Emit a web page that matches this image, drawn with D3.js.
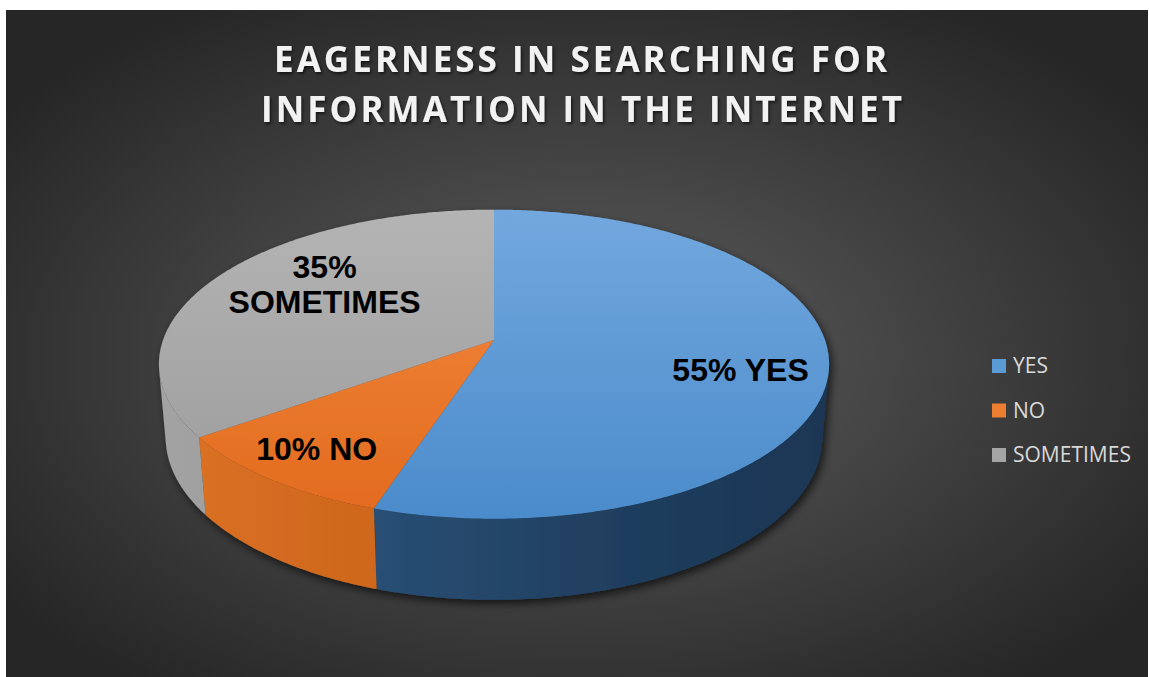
<!DOCTYPE html>
<html>
<head>
<meta charset="utf-8">
<script src="https://cdn.jsdelivr.net/npm/d3@7"></script>
<style>
  html, body { margin: 0; padding: 0; background: #ffffff; }
  svg { display: block; }
</style>
</head>
<body>
<div id="chart"></div>
<script>
// data
const categories = ["YES", "NO", "SOMETIMES"];
const values = [55, 10, 35];
const labelLines = [["55% YES"], ["10% NO"], ["35%", "SOMETIMES"]];
const titleLines = ["EAGERNESS IN SEARCHING FOR", "INFORMATION IN THE INTERNET"];

// look
const topColors = [["#72a8de", "#4b8bcb"], ["#f38b40", "#e26a1e"], ["#b4b4b4", "#9b9b9b"]];
const wallColors = [
  ["#336390", "#284d72", "#1f3d5d", "#1b3654"],
  ["#dc7125", "#cd661c", "#be5b17", "#b35419"],
  ["#a3a3a3", "#929292", "#8b8b8b", "#8a8a8a"]
];
const legendColors = ["#5b9bd5", "#ed7d31", "#a5a5a5"];
// label placement: fraction of radius, angle nudge in degrees
const labelPlace = [{r: 0.747, shift: 5.5}, {r: 0.806, shift: 0.7}, {r: 0.672, shift: 9}];

const W = 1149, H = 677;
const svg = d3.select("#chart").append("svg")
    .attr("width", W)
    .attr("height", H);

const defs = svg.append("defs");

const bg = defs.append("radialGradient").attr("id", "bg")
    .attr("cx", "0.5").attr("cy", "0.52").attr("r", "0.62");
bg.append("stop").attr("offset", "0").attr("stop-color", "#5e5e5e");
bg.append("stop").attr("offset", "1").attr("stop-color", "#262626");

const tshadow = defs.append("filter").attr("id", "tshadow")
    .attr("x", "-10%").attr("y", "-30%").attr("width", "120%").attr("height", "160%");
tshadow.append("feDropShadow").attr("dx", 1.5).attr("dy", 2).attr("stdDeviation", 1.5)
    .attr("flood-color", "#000").attr("flood-opacity", 0.6);

const pshadow = defs.append("filter").attr("id", "pshadow")
    .attr("x", "-10%").attr("y", "-10%").attr("width", "120%").attr("height", "130%");
pshadow.append("feDropShadow").attr("dx", 3).attr("dy", 4).attr("stdDeviation", 4)
    .attr("flood-color", "#000").attr("flood-opacity", 0.65);

// background panel
svg.append("rect")
    .attr("x", 6).attr("y", 10)
    .attr("width", 1142).attr("height", H - 10)
    .attr("fill", "url(#bg)");

// title
svg.append("g")
    .attr("filter", "url(#tshadow)")
  .selectAll("text")
  .data(titleLines)
  .join("text")
    .attr("x", (d, i) => i === 0 ? 580.5 : 581.5)
    .attr("y", (d, i) => 72 + i * 50)
    .attr("text-anchor", "middle")
    .attr("textLength", (d, i) => i === 0 ? 613 : 641)
    .attr("lengthAdjust", "spacing")
    .attr("font-family", "'Open Sans', 'DejaVu Sans', sans-serif")
    .attr("font-weight", 700)
    .attr("font-size", 35)
    .attr("fill", "#f2f2f2")
    .text(d => d);

// 3D pie projection (perspective)
const view = {cx: 494, cy: 340, f: 1883, dist: 5.69, tilt: 27.1 * Math.PI / 180, depth: 0.25};
const ca = Math.cos(view.tilt), sa = Math.sin(view.tilt);

function project(x, y, z) {
  const d = view.dist + z * ca - y * sa;
  const u = y * ca + z * sa;
  return [view.cx + view.f * x / d, view.cy - view.f * u / d];
}
function rim(a, r, y) {
  return project(r * Math.sin(a), y, r * Math.cos(a));
}
function arcPoints(a0, a1, y) {
  const n = Math.max(2, Math.ceil((a1 - a0) / 0.01));
  return d3.range(n + 1).map(i => rim(a0 + (a1 - a0) * i / n, 1, y));
}

// visible band of the outer wall
const silA = Math.acos(-1 / (view.dist * ca));
const silB = 2 * Math.PI - silA;

const data = categories.map((c, i) => ({category: c, value: values[i], index: i}));
const arcs = d3.pie().sort(null).value(d => d.value)(data);

const line = d3.line();

// gradients per slice
arcs.forEach((a, i) => {
  const tg = defs.append("linearGradient").attr("id", "top" + i)
      .attr("gradientUnits", "userSpaceOnUse")
      .attr("x1", 0).attr("y1", 208).attr("x2", 0).attr("y2", 521);
  tg.append("stop").attr("offset", 0).attr("stop-color", topColors[i][0]);
  tg.append("stop").attr("offset", 1).attr("stop-color", topColors[i][1]);

  const wg = defs.append("linearGradient").attr("id", "wall" + i)
      .attr("gradientUnits", "userSpaceOnUse")
      .attr("x1", 159).attr("y1", 0).attr("x2", 831).attr("y2", 0);
  const offs = [0, 0.35, 0.7, 1];
  wallColors[i].forEach((c, k) => wg.append("stop").attr("offset", offs[k]).attr("stop-color", c));
});

const pie = svg.append("g").attr("filter", "url(#pshadow)");

// outer walls
pie.selectAll("path.wall")
  .data(arcs.filter(a => Math.min(a.endAngle, silB) > Math.max(a.startAngle, silA)))
  .join("path")
    .attr("class", "wall")
    .attr("fill", d => `url(#wall${d.index})`)
    .attr("d", d => {
      const a0 = Math.max(d.startAngle, silA), a1 = Math.min(d.endAngle, silB);
      const pts = arcPoints(a0, a1, 0).concat(arcPoints(a0, a1, -view.depth).reverse());
      return line(pts) + "Z";
    });

// top faces
pie.selectAll("path.top")
  .data(arcs)
  .join("path")
    .attr("class", "top")
    .attr("fill", d => `url(#top${d.index})`)
    .attr("d", d => line([project(0, 0, 0)].concat(arcPoints(d.startAngle, d.endAngle, 0))) + "Z");

// data labels
const fs = 32;
const labels = svg.append("g")
  .selectAll("text")
  .data(arcs)
  .join("text")
    .attr("text-anchor", "middle")
    .attr("font-family", "'Liberation Sans', Arial, sans-serif")
    .attr("font-weight", 700)
    .attr("font-size", fs)
    .attr("fill", "#000");

labels.each(function(d) {
  const p = labelPlace[d.index];
  const mid = (d.startAngle + d.endAngle) / 2 + p.shift * Math.PI / 180;
  const [x, y] = rim(mid, p.r, 0);
  const lines = labelLines[d.index];
  const lh = 35;
  const first = y + 0.358 * fs - (lines.length - 1) * lh / 2;
  d3.select(this).selectAll("tspan")
    .data(lines)
    .join("tspan")
      .attr("x", x)
      .attr("y", (t, k) => first + k * lh)
      .text(t => t);
});

// legend
const legend = svg.append("g")
  .selectAll("g")
  .data(categories)
  .join("g")
    .attr("transform", (d, i) => `translate(992, ${373 + i * 44.5})`);

legend.append("rect")
    .attr("x", 0).attr("y", -14)
    .attr("width", 14).attr("height", 14)
    .attr("fill", (d, i) => legendColors[i]);

legend.append("text")
    .attr("x", 21).attr("y", 0)
    .attr("font-family", "'Open Sans', 'DejaVu Sans', sans-serif")
    .attr("font-size", 21)
    .attr("fill", "#d9d9d9")
    .text(d => d);
</script>
</body>
</html>
